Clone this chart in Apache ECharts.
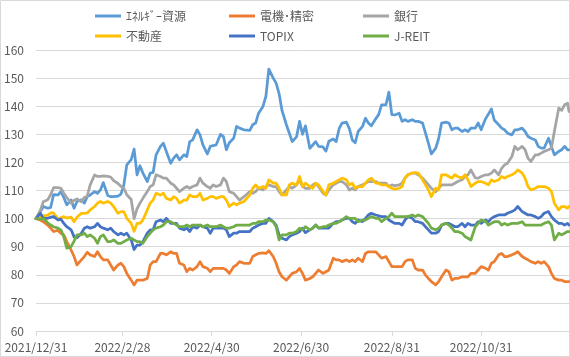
<!DOCTYPE html>
<html><head><meta charset="utf-8">
<script src="https://cdn.jsdelivr.net/npm/echarts@6/dist/echarts.min.js"></script>
<style>html,body{margin:0;padding:0;background:#fff}#c{width:570px;height:357px}</style>
</head><body><div id="c"></div>
<script>
// Axis range and tick labels
const axisStart = [2021, 12, 31];
const axisDays = 365;
const tickLabels = ['2021/12/31', '2022/2/28', '2022/4/30', '2022/6/30', '2022/8/31', '2022/10/31'];
const legendRow1 = ['ｴﾈﾙｷﾞｰ資源', '電機･精密', '銀行'];
const legendRow2 = ['不動産', 'TOPIX', 'J-REIT'];

// Sample days (offset from 2021/12/31)
const days = [
  0,3,5,8,10,12,15,17,19,21,24,26,28,31,33,35,37,40,42,44,46,49,51,53,56,58,60,62,65,67,69,
  71,73,76,78,80,82,85,87,89,92,94,96,98,101,103,105,107,110,112,114,117,119,121,123,126,128,130,132,135,137,139,142,
  143,146,148,150,152,155,157,159,162,164,166,168,171,173,175,178,180,182,184,187,189,191,193,196,198,200,203,205,207,209,212,214,
  216,218,220,223,225,227,229,232,234,236,239,241,243,245,248,250,252,254,257,259,261,264,266,268,270,273,275,277,280,282,284,286,
  288,291,293,295,297,300,302,304,307,309,311,313,316,318,320,322,325,327,329,332,334,336,338,341,343,345,347,350,352,354,357,359,361,363,364
];

const energy = [
  100,102.5,104.3,103.7,104.0,108.5,108.4,109.6,107.5,104.9,106.6,103.7,106.1,106.7,105.5,107.8,108.4,109.6,109.0,110.2,112.8,108.2,107.8,107.8,108.0,108.7,112.0,119.1,121.0,124.7,115.6,
  118.8,116.2,113.2,116.2,116.4,122.7,125.7,126.8,123.9,119.7,121.5,122.7,120.9,122.7,122.1,127.4,128.0,131.6,129.8,126.2,123.0,125.7,126.0,126.2,130.0,129.2,124.5,127.0,128.6,132.8,132.2,131.6,
  132.2,131.4,133.4,134.0,137.5,139.9,143.5,153.2,150.0,148.2,144.5,138.5,133.4,130.4,127.4,129.2,134.6,130.0,133.0,125.0,126.2,127.4,125.7,125.5,124.0,127.5,128.3,127.4,132.0,134.0,134.3,132.0,
  128.0,127.0,131.0,132.8,135.7,134.0,133.0,135.5,137.0,140.5,140.5,145.0,137.0,136.9,137.5,134.6,135.2,134.6,135.2,134.6,134.6,134.0,130.4,126.8,123.0,125.1,128.5,134.0,134.3,134.0,131.6,132.2,
  132.2,131.0,131.6,131.0,132.2,132.2,134.0,131.6,135.5,137.2,139.0,135.0,133.4,132.2,131.6,130.4,129.8,131.6,131.6,132.2,131.0,129.2,128.6,128.0,125.7,125.1,125.1,128.6,125.7,122.7,123.9,124.5,125.7,124.5,124.5
];
const electric = [
  100,99.5,98.9,97.7,96.6,95.4,95.8,94.8,94.2,91.8,88.8,86.5,83.5,85.3,86.5,88.0,87.1,86.5,88.2,86.5,85.3,85.3,83.5,81.7,83.5,84.1,82.9,80.5,78.1,76.4,78.1,
  78.1,78.1,78.7,83.5,84.7,84.7,87.6,87.6,87.1,88.2,87.6,87.6,84.1,83.5,81.1,82.3,81.7,82.9,84.7,82.9,82.3,81.1,82.3,82.3,82.3,82.3,81.7,80.5,82.9,83.5,84.7,84.1,
  84.7,84.1,86.5,87.1,87.6,87.8,87.6,88.6,86.5,84.1,81.1,79.3,78.1,79.3,80.5,81.1,82.3,80.5,78.1,78.7,79.3,80.5,81.7,80.5,81.1,81.7,85.9,85.3,85.3,84.7,85.3,84.7,
  85.3,84.7,85.9,84.7,87.6,88.2,88.2,88.2,87.1,85.9,86.5,84.7,82.9,82.9,82.9,82.9,84.7,85.3,85.3,82.3,81.7,81.7,79.9,78.7,77.6,76.4,77.6,79.3,81.7,81.1,78.1,78.7,
  78.7,79.3,79.3,79.3,80.5,80.5,81.7,82.9,82.3,81.7,84.1,84.7,87.1,87.6,86.5,86.5,87.1,87.6,88.2,86.5,85.9,85.3,84.7,84.1,84.7,84.1,84.7,82.9,80.5,78.7,78.1,78.1,77.6,77.6,77.6
];
const banks = [
  100,103.0,106.0,106.7,108.5,111.0,111.0,110.8,109.0,107.5,105.5,106.5,107.0,106.0,107.5,108.0,112.0,115.5,115.0,115.0,115.2,115.0,114.8,113.5,112.5,111.5,110.8,108.5,106.8,100.0,103.5,
  105.5,107.2,109.6,111.4,112.0,115.6,115.0,114.4,114.4,112.6,112.0,110.8,109.6,110.8,111.4,110.8,111.4,112.0,114.4,112.6,111.4,110.8,112.0,111.4,112.0,114.4,113.2,109.6,109.0,107.8,106.6,107.8,
  108.4,109.6,109.0,109.6,110.8,110.2,111.4,112.0,111.4,111.4,109.6,108.4,110.2,111.4,110.8,112.0,113.8,111.4,110.8,110.8,112.0,112.6,111.4,109.0,108.4,110.2,112.0,112.6,113.2,113.2,112.0,110.2,
  110.8,110.2,111.4,112.0,112.6,113.2,113.2,113.2,112.6,112.6,112.6,111.4,112.0,111.7,112.0,112.6,114.4,115.6,116.2,116.2,115.6,114.4,113.2,112.0,110.8,109.6,110.8,112.0,112.0,112.0,112.0,112.6,
  113.2,113.8,115.0,115.6,117.3,114.5,114.4,115.0,115.6,115.6,116.2,117.3,115.6,117.9,119.1,119.7,122.1,125.7,124.5,125.7,124.5,121.5,120.3,122.7,122.7,123.3,123.9,124.5,125.1,131.0,139.3,138.5,140.5,141.1,138.1
];
const realEstate = [
  100,100.3,101.0,101.2,102.0,102.0,99.8,100.3,100.7,100.2,100.5,98.9,100.5,101.9,101.9,102.0,103.1,104.3,105.5,106.1,105.5,106.1,105.5,104.3,101.9,102.5,102.5,100.1,98.3,95.5,98.3,
  98.3,99.5,103.1,105.5,106.6,109.0,108.4,109.0,107.2,106.6,107.8,107.2,105.5,106.6,106.6,108.4,107.8,107.8,109.0,106.6,107.2,107.8,107.8,107.2,107.8,107.8,106.6,104.3,105.5,104.9,105.5,106.1,
  106.1,108.4,110.8,112.0,110.8,111.4,110.8,113.8,112.6,112.6,110.8,108.4,108.4,112.0,112.6,112.0,115.0,111.4,112.6,111.4,110.8,112.6,112.0,109.6,108.4,112.0,112.6,113.2,113.8,114.4,113.8,112.0,
  112.6,110.8,111.4,111.4,112.6,113.8,114.4,112.6,112.6,112.0,112.0,111.4,110.8,110.5,110.8,111.4,114.4,115.6,116.2,116.4,116.2,113.8,112.0,110.2,107.8,110.8,110.2,115.6,115.6,115.0,114.4,115.6,
  115.0,114.4,115.6,113.8,111.4,112.6,113.2,113.2,112.6,112.0,113.8,113.2,113.8,115.0,114.4,115.0,115.6,116.2,117.3,116.2,114.4,111.4,110.2,110.8,111.4,111.4,111.4,110.8,109.6,105.5,103.1,104.3,104.3,103.7,104.3
];
const topix = [
  100,101.9,100.1,100.1,100.5,100.7,99.5,99.8,98.3,97.1,96.0,93.5,93.2,94.8,96.6,97.1,96.6,97.1,98.3,97.1,96.6,96.0,96.6,95.4,94.2,94.8,94.2,94.8,92.4,89.0,90.6,
  90.6,91.8,94.8,96.0,96.0,98.9,99.5,98.9,100.1,98.3,98.3,98.3,96.6,96.0,96.6,95.4,97.1,96.6,97.7,97.1,96.6,94.8,96.6,96.6,96.6,96.6,96.0,93.6,94.8,94.8,95.4,95.4,
  96.0,95.4,96.6,97.1,97.7,98.3,98.3,100.1,98.9,97.7,94.2,93.0,92.4,93.6,94.2,94.8,95.4,96.6,95.0,96.0,96.6,97.7,96.6,96.6,96.6,96.6,98.3,98.9,98.9,99.5,100.1,100.1,
  98.9,98.3,99.5,98.9,100.1,101.3,101.9,101.3,101.0,100.7,100.7,99.5,98.9,98.3,98.3,97.7,99.5,100.7,100.1,98.9,98.9,98.3,97.1,96.0,94.8,94.8,95.4,97.7,98.3,98.3,97.7,97.1,
  97.1,98.3,97.1,98.3,97.7,97.7,98.9,98.3,99.5,98.9,100.1,100.7,101.3,101.3,101.3,101.9,102.5,103.1,104.3,102.5,101.9,101.3,101.3,100.7,100.1,100.7,101.9,102.5,100.7,99.5,98.3,98.3,97.7,98.3,97.7
];
const jreit = [
  100,99.8,100.0,98.5,97.7,97.1,96.6,96.0,93.5,89.5,90.0,92.0,94.2,94.2,94.8,93.6,94.2,93.0,91.2,93.6,94.2,91.8,91.8,92.4,91.2,91.2,91.8,92.4,93.0,92.4,91.8,
  91.8,91.2,93.6,94.8,96.0,96.6,97.1,97.7,98.9,98.9,98.3,97.7,97.1,97.1,97.7,97.1,97.7,97.7,97.7,97.1,97.7,97.1,97.1,97.1,97.7,97.1,96.6,96.6,97.1,97.7,97.7,97.7,
  97.7,97.7,98.3,98.3,98.9,98.9,99.5,99.5,98.9,97.1,92.4,94.2,94.2,94.8,94.8,95.4,96.6,96.0,97.1,96.0,96.6,97.7,96.6,97.1,97.1,97.7,98.3,98.3,98.9,99.5,100.7,100.1,
  100.1,100.1,98.9,99.5,99.5,100.1,100.7,100.1,100.1,98.9,100.1,100.7,101.9,100.7,100.7,100.7,100.7,100.7,101.3,100.7,101.3,100.7,99.5,98.3,96.6,96.0,96.6,97.7,98.3,97.7,96.6,95.4,
  95.4,94.8,93.6,93.0,92.4,97.1,98.3,99.5,99.0,97.7,98.3,98.9,98.9,97.7,98.3,97.7,98.3,98.3,98.3,98.9,97.7,97.7,97.7,97.7,97.7,97.7,98.3,98.9,97.7,92.4,94.8,94.2,94.8,95.4,95.4
];

// Build calendar categories for the date axis
const categories = [];
for (let i = 0; i < axisDays; i++) {
  const d = new Date(axisStart[0], axisStart[1] - 1, axisStart[2] + i);
  categories.push(d.getFullYear() + '/' + (d.getMonth() + 1) + '/' + d.getDate());
}
const pair = vals => days.map((d, i) => [d, vals[i]]);
const isTick = (idx) => tickLabels.indexOf(categories[idx]) >= 0;

const FONT = "'Noto Sans CJK JP', 'Noto Sans', sans-serif";
const chart = echarts.init(document.getElementById('c'), null, {renderer: 'canvas'});
const mk = (name, vals, color) => ({
  name, type: 'line', data: pair(vals), showSymbol: false, symbol: 'none',
  lineStyle: {width: 2.75, color, join: 'round', cap: 'round'}, itemStyle: {color},
  emphasis: {disabled: true}
});
const legendCols = [90, 224, 358];
const legendTops = [5, 25];
const legends = [];
[legendRow1, legendRow2].forEach((row, r) => row.forEach((name, c) => {
  legends.push({
    data: [name], left: legendCols[c], top: legendTops[r],
    icon: 'rect', itemWidth: 26, itemHeight: 3, itemGap: 0, selectedMode: false,
    textStyle: {color: '#595959', fontSize: 12, fontFamily: FONT}
  });
}));
chart.setOption({
  animation: false,
  backgroundColor: '#fff',
  textStyle: {fontFamily: FONT},
  graphic: [{type: 'rect', shape: {x: 0.5, y: 0.5, width: 569, height: 356},
    style: {fill: 'none', stroke: '#D9D9D9', lineWidth: 1}, silent: true}],
  legend: legends,
  grid: {left: 36, right: 1, top: 50, bottom: 26},
  xAxis: {
    type: 'category', data: categories, boundaryGap: false,
    axisLine: {lineStyle: {color: '#D9D9D9'}},
    axisTick: {interval: isTick, length: 5, lineStyle: {color: '#D9D9D9'}},
    axisLabel: {interval: isTick, color: '#595959', fontSize: 12, fontFamily: FONT, margin: 10},
    splitLine: {show: false}
  },
  yAxis: {
    type: 'value', min: 60, max: 160, interval: 10,
    axisLine: {show: false}, axisTick: {show: false},
    axisLabel: {color: '#595959', fontSize: 12, fontFamily: FONT, margin: 12},
    splitLine: {lineStyle: {color: '#D9D9D9', width: 1}}
  },
  series: [
    mk(legendRow1[0], energy, '#5B9BD5'),
    mk(legendRow1[1], electric, '#ED7D31'),
    mk(legendRow1[2], banks, '#A5A5A5'),
    mk(legendRow2[0], realEstate, '#FFC000'),
    mk(legendRow2[1], topix, '#4472C4'),
    mk(legendRow2[2], jreit, '#70AD47')
  ]
});
</script></body></html>
